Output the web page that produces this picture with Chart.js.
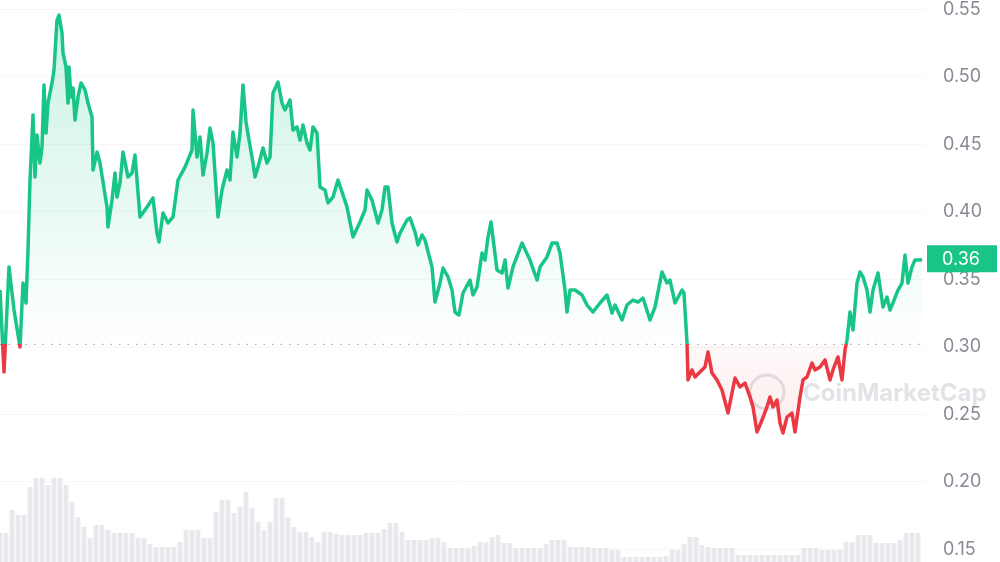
<!DOCTYPE html>
<html>
<head>
<meta charset="utf-8">
<script src="https://cdn.jsdelivr.net/npm/chart.js@4.4.1/dist/chart.umd.min.js"></script>
<style>
  html, body { margin: 0; padding: 0; background: #fff; }
  #wrap { width: 1000px; height: 562px; }
</style>
</head>
<body>
<div id="wrap"><canvas id="grafico" width="1000" height="562"></canvas></div>
<script>
// time steps (chart units) and price in USD
var priceTimes = [0,4,9,14,20,23,26,28,30,33,35,37,40,42,44,46,48,52,54,57,59,62,63,66,68,69,71,73,75,78,81,85,88,92,93,97,100,107,108,112,115,117,120,123,128,132,135,137,140,147,153,157,159,163,168,173,178,185,192,193,197,200,203,207,210,213,218,222,227,230,233,237,240,243,246,249,253,255,258,263,267,270,273,278,282,285,290,293,297,300,303,307,310,313,317,320,325,328,333,338,347,353,360,365,367,372,378,382,385,388,392,397,400,407,410,415,418,422,425,432,435,440,443,448,452,455,459,463,470,473,477,482,485,488,491,493,497,502,505,508,513,522,530,537,540,547,552,557,560,565,567,570,575,582,587,593,600,607,612,615,622,627,633,638,643,650,655,662,667,670,675,682,684,687,688,692,695,700,705,708,712,717,722,728,735,740,745,750,753,757,762,767,770,773,777,780,783,787,792,795,800,803,807,812,815,820,825,830,833,838,842,845,847,850,853,857,860,863,867,870,873,878,883,887,890,893,898,902,905,908,912,915,920,922];
var prices = [0.3422,0.2815,0.3593,0.3274,0.3000,0.3474,0.3326,0.3719,0.4237,0.4719,0.4259,0.4570,0.4363,0.4481,0.4941,0.4585,0.4807,0.4956,0.5052,0.5422,0.5459,0.5326,0.5178,0.5074,0.4807,0.5074,0.4852,0.4919,0.4681,0.4852,0.4956,0.4904,0.4807,0.4704,0.4311,0.4444,0.4363,0.4037,0.3889,0.4089,0.4289,0.4111,0.4215,0.4444,0.4259,0.4289,0.4422,0.4237,0.3963,0.4037,0.4104,0.3844,0.3778,0.3993,0.3919,0.3963,0.4237,0.4333,0.4459,0.4756,0.4407,0.4556,0.4274,0.4437,0.4622,0.4511,0.3963,0.4163,0.4311,0.4237,0.4593,0.4407,0.4585,0.4941,0.4667,0.4533,0.4363,0.4259,0.4333,0.4474,0.4363,0.4407,0.4881,0.4963,0.4807,0.4756,0.4830,0.4607,0.4630,0.4533,0.4644,0.4511,0.4459,0.4630,0.4585,0.4185,0.4163,0.4067,0.4111,0.4237,0.4037,0.3815,0.3926,0.4015,0.4163,0.4089,0.3919,0.4015,0.4185,0.4185,0.3919,0.3778,0.3844,0.3941,0.3956,0.3852,0.3756,0.3830,0.3793,0.3593,0.3333,0.3474,0.3585,0.3519,0.3422,0.3259,0.3237,0.3400,0.3496,0.3385,0.3444,0.3696,0.3644,0.3815,0.3926,0.3807,0.3570,0.3548,0.3644,0.3437,0.3593,0.3770,0.3644,0.3496,0.3593,0.3667,0.3770,0.3770,0.3696,0.3422,0.3259,0.3422,0.3422,0.3385,0.3311,0.3259,0.3326,0.3385,0.3252,0.3311,0.3200,0.3311,0.3348,0.3333,0.3363,0.3200,0.3296,0.3556,0.3474,0.3496,0.3326,0.3422,0.3400,0.3030,0.2756,0.2830,0.2778,0.2815,0.2852,0.2963,0.2807,0.2756,0.2681,0.2511,0.2770,0.2704,0.2733,0.2630,0.2556,0.2370,0.2459,0.2556,0.2630,0.2556,0.2607,0.2437,0.2363,0.2481,0.2511,0.2370,0.2630,0.2756,0.2778,0.2881,0.2830,0.2852,0.2904,0.2756,0.2830,0.2926,0.2756,0.2978,0.3052,0.3259,0.3126,0.3474,0.3556,0.3519,0.3422,0.3259,0.3422,0.3548,0.3296,0.3370,0.3274,0.3326,0.3422,0.3474,0.3681,0.3474,0.3593,0.3644,0.3644,0.3650];

// volume (millions) sampled every 6 time steps
var volTimes = [];
for (var t = 0; t <= 918; t += 6) volTimes.push(t);
var volumes = [29,29,52,47,47,75,84,84,77,84,84,77,60,45,35,24,37,37,32,29,29,29,29,24,24,18,15,15,15,15,20,32,32,32,24,24,50,62,62,49,55,70,54,40,32,40,64,64,45,35,30,30,25,20,30,30,28,27,27,27,27,29,29,29,33,39,39,30,22,22,22,22,24,24,20,14,14,14,14,16,20,20,25,27,19,19,14,14,14,14,14,18,22,22,22,15,15,15,15,14,14,14,12,12,5,5,5,5,5,5,5,6,12,12,18,25,25,17,15,14,14,14,14,7,7,7,7,7,7,7,7,7,7,7,14,14,14,12,12,12,12,20,20,27,27,27,19,19,19,19,22,29,29,29];

var yTicks = [0.15, 0.20, 0.25, 0.30, 0.35, 0.40, 0.45, 0.50, 0.55];
var baseline = 0.302;
var lastLabel = "0.36";

var verde = "#18c587";
var vermelho = "#ea3943";

var pricePoints = priceTimes.map(function (t, i) { return { x: t, y: prices[i] }; });
var volPoints = volTimes.map(function (t, i) { return { x: t, y: volumes[i] }; });

var fillOpt = { target: { value: baseline }, above: "rgba(22,199,132,0.12)", below: "rgba(234,57,67,0.08)" };

function linhaCor(ctx) {
  var chart = ctx.chart;
  var area = chart.chartArea;
  if (!area) return verde;
  var yb = chart.scales.y.getPixelForValue(baseline);
  var f = (yb - area.top) / (area.bottom - area.top);
  f = Math.min(1, Math.max(0, f));
  var g = chart.ctx.createLinearGradient(0, area.top, 0, area.bottom);
  g.addColorStop(0, verde);
  g.addColorStop(f, verde);
  g.addColorStop(f, vermelho);
  g.addColorStop(1, vermelho);
  return g;
}

var extras = {
  id: "extras",
  afterLayout: function (chart) {
    var area = chart.chartArea;
    var y = chart.scales.y;
    var yb = y.getPixelForValue(baseline);
    var c = chart.ctx;
    var up = c.createLinearGradient(0, area.top, 0, yb);
    up.addColorStop(0, "rgba(22,199,132,0.24)");
    up.addColorStop(1, "rgba(22,199,132,0.0)");
    fillOpt.above = up;
    var dn = c.createLinearGradient(0, yb, 0, y.getPixelForValue(0.23));
    dn.addColorStop(0, "rgba(234,57,67,0.03)");
    dn.addColorStop(1, "rgba(234,57,67,0.10)");
    fillOpt.below = dn;
  },
  beforeDatasetsDraw: function (chart) {
    var c = chart.ctx;
    var area = chart.chartArea;
    var yb = chart.scales.y.getPixelForValue(baseline);
    c.save();
    // watermark
    c.globalAlpha = 0.5;
    c.strokeStyle = "#c4c8ce";
    c.lineWidth = 3;
    c.beginPath();
    c.arc(767, 392, 17, 0, Math.PI * 2);
    c.stroke();
    c.fillStyle = "#c4c8ce";
    c.font = "bold 24px Inter, 'Noto Sans', sans-serif";
    c.textAlign = "left";
    c.textBaseline = "middle";
    c.fillText("CoinMarketCap", 803, 394);
    c.globalAlpha = 1;
    // dotted baseline
    c.strokeStyle = "#a9aeb5";
    c.lineWidth = 1.2;
    c.setLineDash([1.5, 7]);
    c.beginPath();
    c.moveTo(area.left, yb);
    c.lineTo(area.right, yb);
    c.stroke();
    c.restore();
  },
  afterDraw: function (chart) {
    var c = chart.ctx;
    var y = chart.scales.y;
    var ly = y.getPixelForValue(prices[prices.length - 1]);
    c.save();
    c.fillStyle = verde;
    c.fillRect(927, ly - 14, 70, 27);
    c.fillStyle = "#ffffff";
    c.font = "18px Inter, 'Noto Sans', sans-serif";
    c.textAlign = "center";
    c.textBaseline = "middle";
    c.fillText(lastLabel, 961, ly);
    c.restore();
  }
};

var ctx = document.getElementById("grafico").getContext("2d");
var grafico = new Chart(ctx, {
  data: {
    datasets: [
      {
        type: "line",
        label: "preco",
        data: pricePoints,
        borderColor: linhaCor,
        borderWidth: 3.5,
        pointRadius: 0,
        tension: 0,
        borderJoinStyle: "round",
        fill: fillOpt,
        clip: false,
        yAxisID: "y",
        order: 1
      },
      {
        type: "bar",
        label: "volume",
        data: volPoints,
        backgroundColor: "#e7e9ec",
        barPercentage: 1,
        categoryPercentage: 0.8,
        yAxisID: "yv",
        order: 2
      }
    ]
  },
  plugins: [extras],
  options: {
    responsive: false,
    animation: false,
    layout: { padding: 0 },
    plugins: { legend: { display: false }, tooltip: { enabled: false } },
    scales: {
      x: { type: "linear", min: 0, max: 925, offset: false, display: false },
      yv: { type: "linear", min: 0, max: 562, display: false },
      y: {
        type: "linear",
        position: "right",
        min: 0.30 - 215 / 1350,
        max: 0.30 + 347 / 1350,
        border: { display: false },
        grid: { color: "rgba(0,0,0,0.035)", drawTicks: false },
        afterBuildTicks: function (scale) {
          scale.ticks = yTicks.map(function (v) { return { value: v }; });
        },
        afterFit: function (scale) {
          scale.width = 75;
          scale.paddingTop = 0;
          scale.paddingBottom = 0;
        },
        ticks: {
          padding: 18,
          color: "#878c94",
          font: { size: 18, family: "Inter, 'Noto Sans', sans-serif" },
          callback: function (v) { return Number(v).toFixed(2); }
        }
      }
    }
  }
});
</script>
</body>
</html>
